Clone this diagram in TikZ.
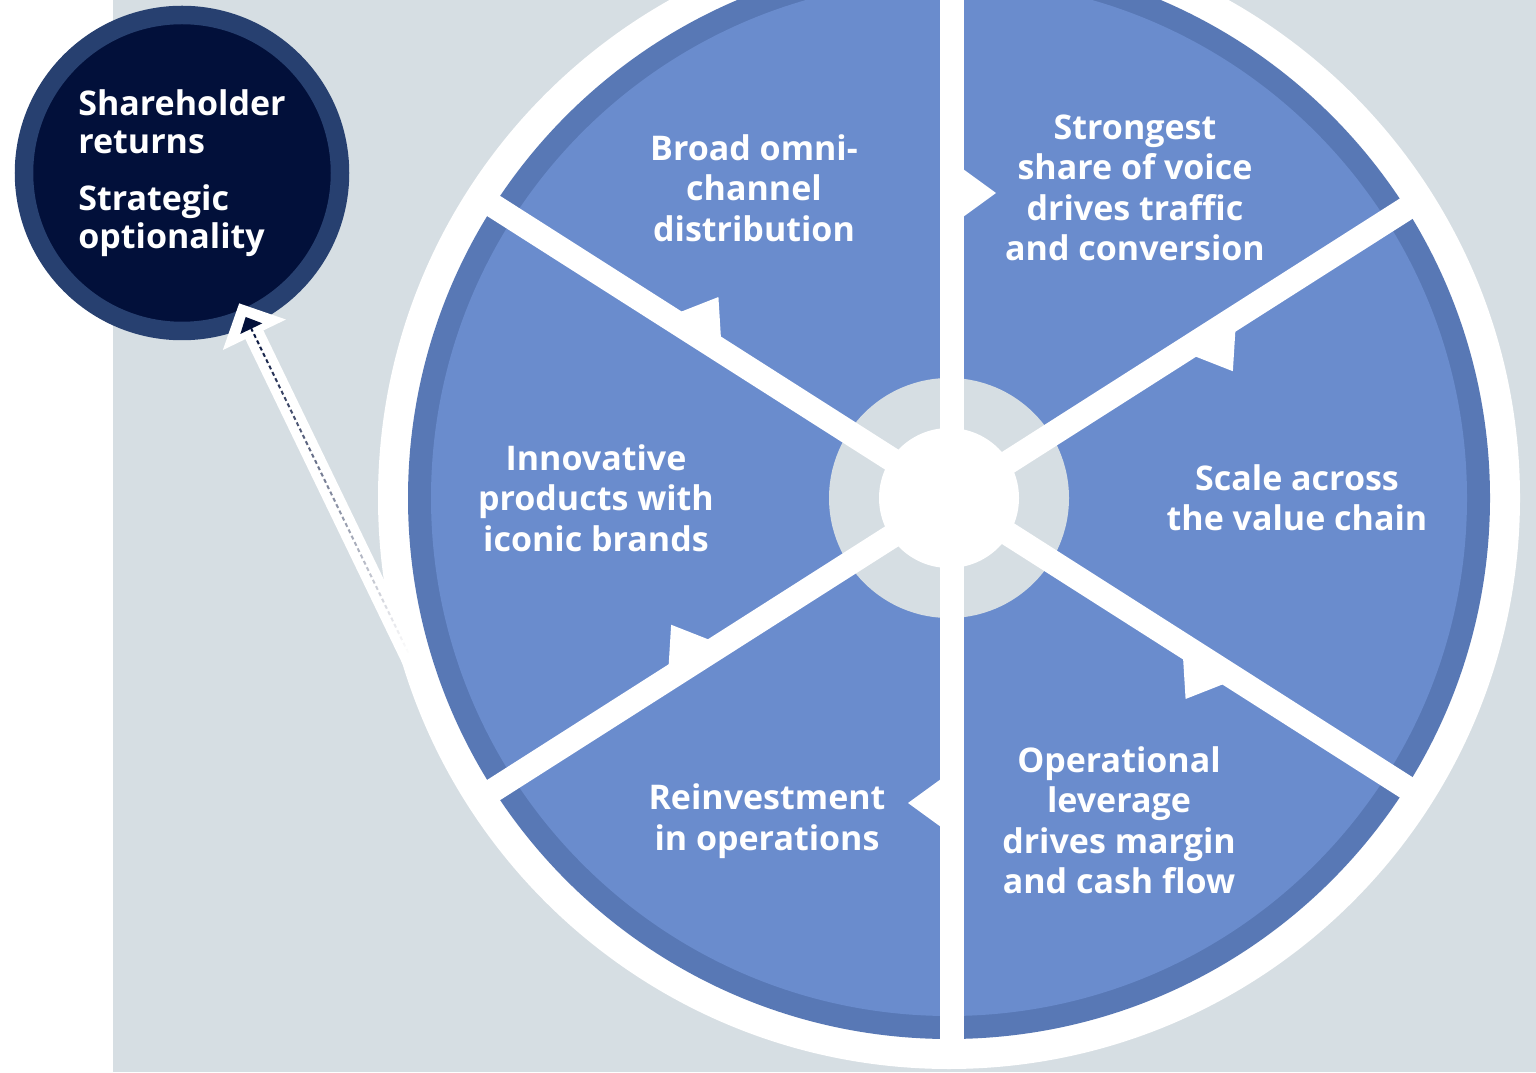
\documentclass[tikz,border=0pt]{standalone}
\usepackage{fontspec}
\setmainfont{Open Sans}
\usepackage{tikz}
\usetikzlibrary{arrows.meta,positioning,calc,fadings}

\definecolor{bgGray}{HTML}{D6DEE3}
\definecolor{segBlue}{HTML}{6A8CCD}
\definecolor{rimBlue}{HTML}{5878B5}
\definecolor{navy}{HTML}{02103A}
\definecolor{navyRim}{HTML}{274070}

% dashed trail dies out towards its tail
\tikzfading[name=tailfade, top color=transparent!0, middle color=transparent!0, bottom color=transparent!100]

\tikzset{
  seglabel/.style={text=white, font=\bfseries\fontsize{34}{40.5}\selectfont, align=center},
}

\begin{document}
\begin{tikzpicture}[x=1pt,y=1pt]
\useasboundingbox (0,0) rectangle (1536,1072);
\clip (0,0) rectangle (1536,1072);
\fill[bgGray] (113,0) rectangle (1536,1072);

% the wheel
\node[circle, fill=white, minimum size=1142pt, inner sep=0pt, outer sep=0pt] (wheel) at (949,574) {};
\fill[rimBlue] (wheel.center) circle (541pt);
\fill[segBlue] (wheel.center) circle (518pt);
\fill[bgGray] (wheel.center) circle (120pt);
\foreach \a in {90,32.5,-32.5,-90,-147.5,147.5}{
  \begin{scope}[shift={($(wheel.center)+(3,0)$)}, rotate=\a]
    \fill[white] (0,-12) rectangle (548,12);
    \fill[white] (281,-11) -- (305,-44) -- (329,-11) -- cycle;
  \end{scope}
}
\fill[white] (wheel.center) circle (70pt);

\node[seglabel] (omni) at (754,884) {Broad omni-\\channel\\distribution};
\node[seglabel] (voice) at (1135,884) {Strongest\\share of voice\\drives traffic\\and conversion};
\node[seglabel] (scale) at (1297,574) {Scale across\\the value chain};
\node[seglabel] (lever) at (1119,252) {Operational\\leverage\\drives margin\\and cash flow};
\node[seglabel] (reinv) at (767,251) {Reinvestment\\in operations};
\node[seglabel] (innov) at (596,574) {Innovative\\products with\\iconic brands};

% outcome circle
\node[circle, fill=navy, draw=navyRim, line width=18.5pt, minimum size=316pt, inner sep=0pt,
  text=white, font=\bfseries\fontsize{34}{38.5}\selectfont, align=left] (returns) at (182,899)
  {Shareholder\\returns\\[18pt]Strategic\\optionality};

% arrow leaves from inside the white rim
\coordinate (foot) at ($(wheel.center)!0.974!(wheel.201)$);
\draw[white, line width=20pt, -{Triangle[length=35pt,width=68pt]}, shorten >=-25pt] (foot) -- (returns.-66);
\draw[navy, line width=2pt, dash pattern=on 4pt off 3pt, -{Triangle[length=13pt,width=24pt]},
  shorten >=-10pt, path fading=tailfade] ($(foot)!0.12!(returns.-66)$) -- (returns.-66);
\end{tikzpicture}
\end{document}
